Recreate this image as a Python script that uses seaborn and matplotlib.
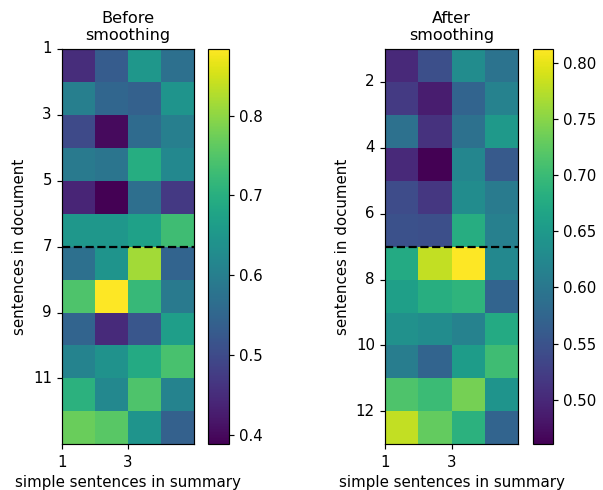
import matplotlib
matplotlib.use("Agg")
import matplotlib.pyplot as plt
import numpy as np
import seaborn as sns

# values (rows = sentences in document 1..12, cols = summary sentences 1..4)
before = [
    [0.45, 0.53, 0.65, 0.57],
    [0.60, 0.55, 0.54, 0.645],
    [0.50, 0.40, 0.56, 0.60],
    [0.59, 0.58, 0.695, 0.62],
    [0.44, 0.388, 0.567, 0.47],
    [0.65, 0.65, 0.67, 0.73],
    [0.57, 0.645, 0.815, 0.545],
    [0.745, 0.884, 0.72, 0.59],
    [0.545, 0.448, 0.52, 0.665],
    [0.61, 0.64, 0.69, 0.74],
    [0.705, 0.62, 0.745, 0.61],
    [0.77, 0.755, 0.645, 0.54],
]
after = [
    [0.50, 0.545, 0.63, 0.595],
    [0.52, 0.488, 0.573, 0.615],
    [0.59, 0.51, 0.59, 0.65],
    [0.50, 0.46, 0.622, 0.559],
    [0.541, 0.516, 0.63, 0.605],
    [0.548, 0.545, 0.68, 0.612],
    [0.675, 0.78, 0.813, 0.625],
    [0.658, 0.682, 0.69, 0.573],
    [0.637, 0.63, 0.615, 0.675],
    [0.608, 0.573, 0.654, 0.703],
    [0.714, 0.70, 0.739, 0.643],
    [0.781, 0.728, 0.686, 0.573],
]
titles = ["Before\nsmoothing", "After\nsmoothing"]
x_ticks = [1, 3]
y_ticks_left = [1, 3, 5, 7, 9, 11]
y_ticks_right = [2, 4, 6, 8, 10, 12]
split_row = 7

fig = plt.figure(figsize=(6.03, 4.9), dpi=100)
ax1 = fig.add_axes([0.1028, 0.0929, 0.2189, 0.808])
cax1 = fig.add_axes([0.345, 0.0929, 0.0348, 0.808])
ax2 = fig.add_axes([0.6385, 0.0929, 0.2206, 0.808])
cax2 = fig.add_axes([0.884, 0.0929, 0.0332, 0.808])

for data, ax, cax, title, yt in [(before, ax1, cax1, titles[0], y_ticks_left),
                                  (after, ax2, cax2, titles[1], y_ticks_right)]:
    arr = np.array(data)
    sns.heatmap(arr, ax=ax, cbar_ax=cax, cmap="viridis", square=False,
                vmin=arr.min(), vmax=arr.max())
    ax.set_xticks([t - 1 for t in x_ticks])
    ax.set_xticklabels([str(t) for t in x_ticks], rotation=0)
    ax.set_yticks([t - 1 for t in yt])
    ax.set_yticklabels([str(t) for t in yt], rotation=0)
    ax.tick_params(length=3.8, width=0.85, labelsize=10.8)
    ax.axhline(split_row - 1, color="black", linestyle="--", linewidth=1.6)
    for sp in ax.spines.values():
        sp.set_visible(True)
        sp.set_linewidth(0.85)
    ax.set_title(title, fontsize=11.6)
    ax.set_xlabel("simple sentences in summary", fontsize=10.8)
    ax.set_ylabel("sentences in document", fontsize=10.8)
    cb = ax.collections[0].colorbar
    cb.outline.set_visible(True)
    cb.outline.set_linewidth(0.85)
    cax.tick_params(labelsize=10.8, length=3.8, width=0.85)

cax2.yaxis.set_major_formatter(matplotlib.ticker.FormatStrFormatter("%.2f"))

plt.savefig("out.png", dpi=100)
